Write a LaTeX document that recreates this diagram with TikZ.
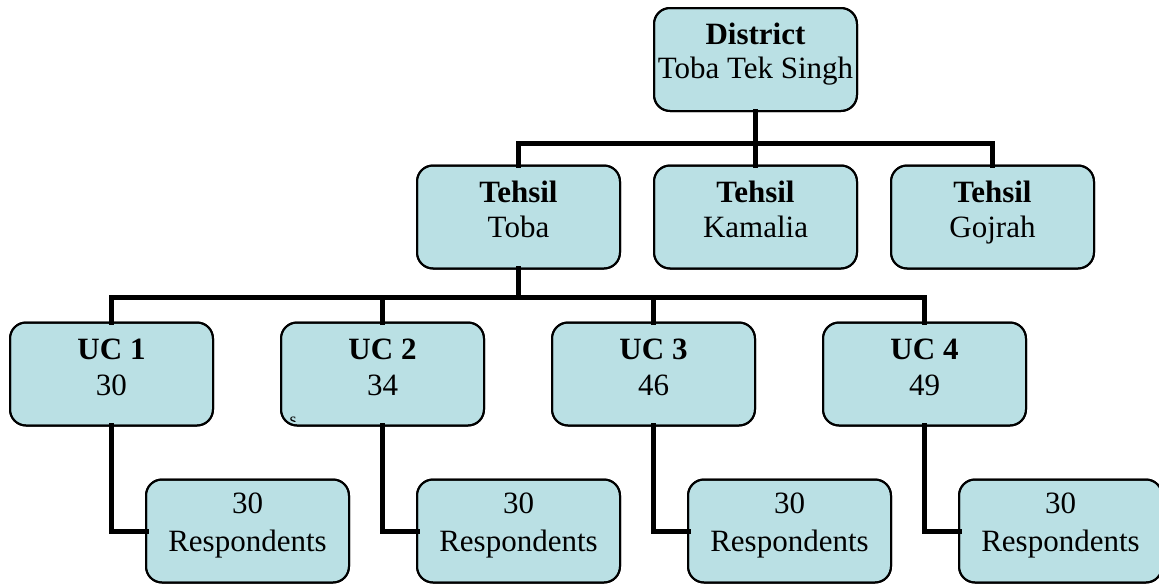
\documentclass[tikz,border=0pt]{standalone}
\usepackage{fontspec}
\setmainfont{Liberation Serif}
\definecolor{boxfill}{RGB}{186,224,228}
\tikzset{
  x=1pt, y=-1pt,
  orgbox/.style={draw=black, line width=2pt, fill=boxfill, rounded corners=16pt,
    minimum width=203pt, minimum height=103pt, inner sep=0pt, outer sep=0pt},
  conn/.style={line width=5pt, line cap=rect, line join=miter},
}
% #1 first baseline from top, #2 line skip, #3 first line, #4 second line
\newcommand{\boxtext}[4]{\parbox[c][103pt][t]{200pt}{\centering\fontsize{31pt}{#2}\selectfont\rule{0pt}{#1}#3\\#4}}
\begin{document}
\begin{tikzpicture}
\useasboundingbox (0,0) rectangle (1159,584);
\clip (0,0) rectangle (1159,584);
\coordinate (j1) at (755.5,143);
\coordinate (j2) at (518.5,297);
% boxes
\node[orgbox] (d) at (755.5,59.5) {\boxtext{36pt}{34.5pt}{\textbf{District}}{Toba Tek Singh}};
\node[orgbox] (t1) at (518.5,217) {\boxtext{36.7pt}{35pt}{\textbf{Tehsil}}{Toba}};
\node[orgbox] (t2) at (755.5,217) {\boxtext{36.7pt}{35pt}{\textbf{Tehsil}}{Kamalia}};
\node[orgbox] (t3) at (992.5,217) {\boxtext{36.7pt}{35pt}{\textbf{Tehsil}}{Gojrah}};
\node[orgbox] (u1) at (111.5,374) {\boxtext{36.5pt}{36.6pt}{\textbf{UC 1}}{30}};
\node[orgbox] (u2) at (382.5,374) {\boxtext{36.5pt}{36.6pt}{\textbf{UC 2}}{34}};
\node[orgbox] (u3) at (653.5,374) {\boxtext{36.5pt}{36.6pt}{\textbf{UC 3}}{46}};
\node[orgbox] (u4) at (924.5,374) {\boxtext{36.5pt}{36.6pt}{\textbf{UC 4}}{49}};
\node[orgbox] (r1) at (247.5,531) {\boxtext{34.3pt}{37.4pt}{30}{Respondents}};
\node[orgbox] (r2) at (518.5,531) {\boxtext{34.3pt}{37.4pt}{30}{Respondents}};
\node[orgbox] (r3) at (789.5,531) {\boxtext{34.3pt}{37.4pt}{30}{Respondents}};
\node[orgbox] (r4) at (1060.5,531) {\boxtext{34.3pt}{37.4pt}{30}{Respondents}};
% connectors
\draw[conn] (d.south) -- (j1);
\draw[conn] (t1.north) |- (j1) -| (t3.north);
\draw[conn] (j1) -- (t2.north);
\draw[conn] (t1.south) -- (j2);
\draw[conn] (u1.north) |- (j2) -| (u4.north);
\draw[conn] (u2.north) -- (u2.north |- j2);
\draw[conn] (u3.north) -- (u3.north |- j2);
\draw[conn] (u1.south) |- (r1.west);
\draw[conn] (u2.south) |- (r2.west);
\draw[conn] (u3.south) |- (r3.west);
\draw[conn] (u4.south) |- (r4.west);
% redraw box borders over connector ends
\foreach \n in {d,t1,t2,t3,u1,u2,u3,u4,r1,r2,r3,r4}
  \draw[line width=2pt, rounded corners=16pt] (\n.south west) rectangle (\n.north east);
% stray small letter in UC 2
\begin{scope}
\clip (283,410) rectangle (330,421.5);
\node[anchor=base west, inner sep=0pt, font=\fontsize{18pt}{20pt}\selectfont] (s) at (289.5,425) {s};
\end{scope}
\end{tikzpicture}
\end{document}
